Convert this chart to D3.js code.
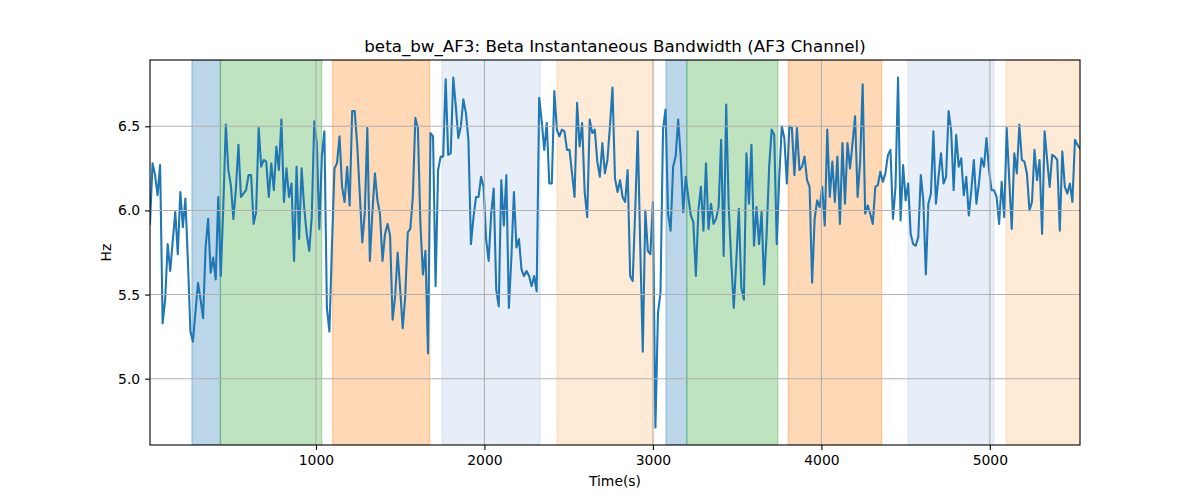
<!DOCTYPE html>
<html>
<head>
<meta charset="utf-8">
<script src="https://cdn.jsdelivr.net/npm/d3@7"></script>
<style>
  html, body { margin: 0; padding: 0; background: #fff; }
  svg { display: block; font-family: "DejaVu Sans", sans-serif; }
</style>
</head>
<body>
<svg id="chart" width="1200" height="500"></svg>
<script>
// ---- data ----
const title = "beta_bw_AF3: Beta Instantaneous Bandwidth (AF3 Channel)";
const xLabel = "Time(s)";
const yLabel = "Hz";
const sampleStart = 15;   // first sample time
const sampleStep = 15;    // sampling interval
const bandwidth = [
5.92,6.28,6.21,6.09,6.27,5.33,5.47,5.80,5.64,5.82,5.99,5.74,6.11,5.90,6.07,5.70,5.28,5.22,5.40,5.57,
5.47,5.36,5.78,5.95,5.63,5.72,5.59,6.08,5.61,6.02,6.51,6.24,6.15,5.95,6.13,6.39,6.08,6.10,6.12,6.21,
6.21,5.92,5.99,6.49,6.26,6.30,6.29,6.08,6.28,6.12,6.38,6.24,6.54,6.05,6.25,6.08,6.16,5.70,6.26,5.83,
6.25,6.02,5.86,5.76,5.96,6.53,6.40,5.89,6.32,6.47,5.42,5.28,5.79,6.25,6.28,6.44,6.14,6.05,6.26,6.03,
6.59,6.59,6.39,6.10,5.81,5.99,6.49,5.70,5.99,6.22,6.06,5.98,5.70,5.86,5.92,5.85,5.35,5.49,5.75,5.53,
5.30,5.49,5.87,5.89,6.08,6.55,6.49,5.92,5.62,5.76,5.15,6.46,6.44,5.55,6.24,6.32,6.32,6.78,6.33,6.34,
6.79,6.62,6.43,6.50,6.66,6.58,6.42,5.80,5.96,6.08,6.08,6.20,6.14,5.83,5.70,5.98,6.13,5.53,5.43,6.18,
5.91,6.21,5.42,5.72,6.11,5.78,5.83,5.65,5.61,5.64,5.61,5.55,5.61,5.52,6.67,6.53,6.36,6.52,6.16,6.16,
6.71,6.48,6.44,6.48,6.47,6.36,6.36,6.22,6.08,6.64,6.38,6.52,6.11,5.96,6.54,6.46,6.48,6.29,6.20,6.40,
6.22,6.30,6.50,6.73,6.19,6.11,6.18,6.08,6.05,6.24,5.61,5.58,6.00,6.47,5.78,5.16,6.00,5.76,5.74,6.05,
4.71,5.39,5.51,6.48,6.60,5.98,5.88,6.26,6.32,6.54,6.32,5.99,6.20,6.08,5.97,5.93,5.61,6.00,6.14,5.88,
6.28,5.89,6.04,5.92,5.95,6.02,6.42,5.73,6.63,6.02,5.70,5.42,5.70,6.01,5.54,5.47,6.34,6.04,6.39,5.79,
6.02,5.80,5.99,5.56,5.86,6.26,6.48,6.45,5.80,6.20,6.50,6.43,6.16,6.50,6.49,6.21,6.49,6.24,6.26,6.32,
6.18,6.14,5.57,5.95,6.06,6.02,6.14,5.91,6.48,6.08,6.29,6.05,6.32,5.92,6.40,6.04,6.40,6.25,6.40,6.56,
6.08,6.29,6.75,5.98,6.03,5.98,5.92,6.14,6.15,6.23,6.17,6.22,6.33,6.36,5.95,6.14,6.79,5.94,6.27,6.06,
6.16,5.86,5.80,5.79,5.84,6.21,6.06,5.62,6.04,6.10,6.47,6.04,6.20,6.34,6.16,6.20,6.59,6.48,6.12,6.45,
6.26,6.31,6.09,6.20,5.97,6.12,6.30,6.04,6.16,6.31,6.26,6.43,6.24,6.12,6.12,6.08,5.92,6.17,5.96,6.49,
6.18,5.89,6.34,6.22,6.51,6.30,6.29,6.22,6.00,6.05,6.36,6.18,6.30,5.86,6.47,6.30,6.14,6.33,6.32,6.30,
5.88,6.35,6.14,6.10,6.16,6.05,6.42,6.39,6.37
];
const spanStarts = [264, 433, 1099, 1748, 2431, 3078, 3201, 3804, 4514, 5096];
const spanEnds   = [433, 1034, 1675, 2330, 3005, 3201, 3741, 4358, 5025, 5560];
const spanKinds  = ["blue", "green", "orange", "lightblue", "lightorange",
                    "blue", "green", "orange", "lightblue", "lightorange"];
const xTicks = [1000, 2000, 3000, 4000, 5000];
const yTicks = [5.0, 5.5, 6.0, 6.5];

// ---- styles ----
const spanColors = {
  blue: "#1f77b4", green: "#2ca02c", orange: "#ff7f0e",
  lightblue: "#aec7e8", lightorange: "#ffbb78"
};
const W = 1200, H = 500;
const m = { left: 150, right: 1080, top: 60, bottom: 445 };

const times = bandwidth.map((_, i) => sampleStart + i * sampleStep);
const data = bandwidth.map((v, i) => ({ t: times[i], v }));

const svg = d3.select("#chart");

const x = d3.scaleLinear().domain(d3.extent(times)).range([m.left, m.right]);
const [ymin, ymax] = d3.extent(bandwidth);
const pad = (ymax - ymin) * 0.05;
const y = d3.scaleLinear().domain([ymin - pad, ymax + pad]).range([m.bottom, m.top]);

const clip = svg.append("defs").append("clipPath").attr("id", "clip")
  .append("rect").attr("x", m.left).attr("y", m.top)
  .attr("width", m.right - m.left).attr("height", m.bottom - m.top);

const plot = svg.append("g").attr("clip-path", "url(#clip)");

// spans
plot.selectAll("rect.span")
  .data(spanStarts.map((s, i) => ({ s, e: spanEnds[i], k: spanKinds[i] })))
  .join("rect")
  .attr("class", "span")
  .attr("x", d => x(d.s))
  .attr("width", d => x(d.e) - x(d.s))
  .attr("y", m.top)
  .attr("height", m.bottom - m.top)
  .attr("fill", d => spanColors[d.k])
  .attr("fill-opacity", 0.3)
  .attr("stroke", d => spanColors[d.k])
  .attr("stroke-opacity", 0.3)
  .attr("stroke-width", 1.4);

// grid
const grid = svg.append("g");
grid.selectAll("line.gx").data(xTicks).join("line")
  .attr("x1", d => x(d)).attr("x2", d => x(d))
  .attr("y1", m.top).attr("y2", m.bottom)
  .attr("stroke", "#b0b0b0").attr("stroke-width", 1.1);
grid.selectAll("line.gy").data(yTicks).join("line")
  .attr("y1", d => y(d)).attr("y2", d => y(d))
  .attr("x1", m.left).attr("x2", m.right)
  .attr("stroke", "#b0b0b0").attr("stroke-width", 1.1);

// line
plot.append("path")
  .datum(data)
  .attr("fill", "none")
  .attr("stroke", "#1f77b4")
  .attr("stroke-width", 2.08)
  .attr("stroke-linejoin", "round")
  .attr("stroke-linecap", "square")
  .attr("d", d3.line().x(d => x(d.t)).y(d => y(d.v)));

// axes
const xAxis = d3.axisBottom(x).tickValues(xTicks).tickFormat(d3.format("d"))
  .tickSizeInner(4.9).tickSizeOuter(0).tickPadding(4.9);
const yAxis = d3.axisLeft(y).tickValues(yTicks).tickFormat(d3.format(".1f"))
  .tickSizeInner(4.9).tickSizeOuter(0).tickPadding(4.9);

const gx = svg.append("g").attr("transform", `translate(0,${m.bottom})`).call(xAxis);
const gy = svg.append("g").attr("transform", `translate(${m.left},0)`).call(yAxis);
[gx, gy].forEach(g => {
  g.select(".domain").remove();
  g.selectAll(".tick line").attr("stroke", "#000").attr("stroke-width", 1.1);
  g.selectAll(".tick text").attr("fill", "#000")
    .style("font-size", "13.9px").style("font-family", "DejaVu Sans");
});

// frame
svg.append("rect")
  .attr("x", m.left).attr("y", m.top)
  .attr("width", m.right - m.left).attr("height", m.bottom - m.top)
  .attr("fill", "none").attr("stroke", "#000").attr("stroke-width", 1.1);

// labels
svg.append("text")
  .attr("x", (m.left + m.right) / 2).attr("y", 52)
  .attr("text-anchor", "middle")
  .style("font-size", "16.7px")
  .text(title);
svg.append("text")
  .attr("x", (m.left + m.right) / 2).attr("y", 486)
  .attr("text-anchor", "middle")
  .style("font-size", "13.9px")
  .text(xLabel);
svg.append("text")
  .attr("transform", `translate(111,${(m.top + m.bottom) / 2}) rotate(-90)`)
  .attr("text-anchor", "middle")
  .style("font-size", "13.9px")
  .text(yLabel);
</script>
</body>
</html>
